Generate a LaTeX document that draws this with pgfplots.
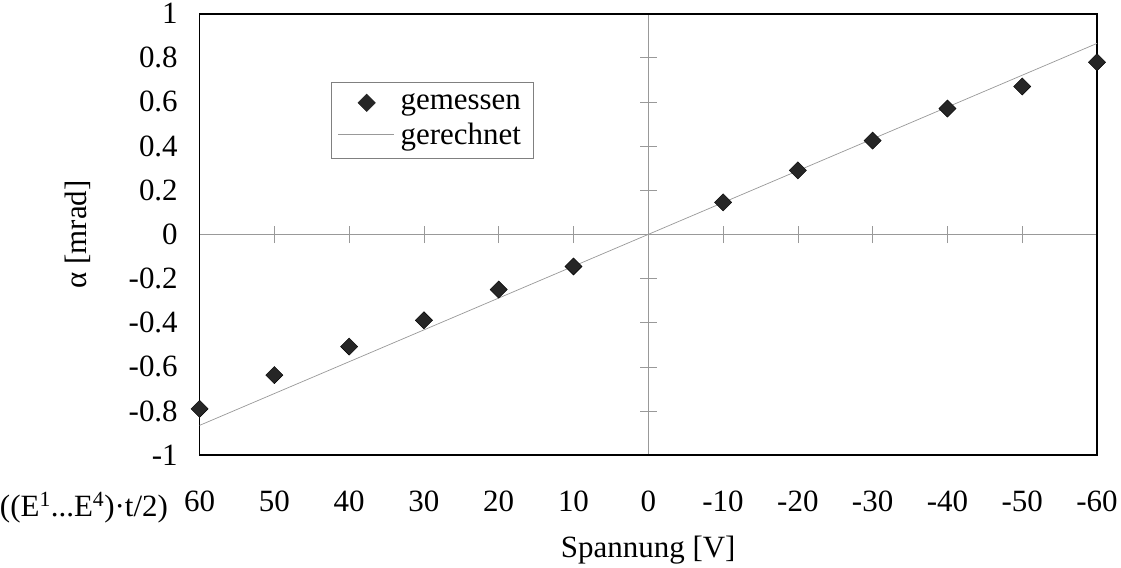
\documentclass[border=0pt]{standalone}
\usepackage{fontspec}
\setmainfont{Liberation Serif}
\usepackage{pgfplots}
\pgfplotsset{compat=1.18}
\begin{document}
\begin{tikzpicture}
\newcommand{\lfont}{\fontsize{30.5}{36}\selectfont}
% centre lines with crossing ticks
\begin{axis}[
  name=inner,
  scale only axis, width=884pt, height=435pt,
  x dir=reverse,
  xmin=-60, xmax=60, ymin=-1, ymax=1,
  axis lines=middle,
  axis line style={-, gray!80, line width=0.6pt},
  xtick={-60,-50,-40,-30,-20,-10,10,20,30,40,50},
  ytick={-0.8,-0.6,-0.4,-0.2,0.2,0.4,0.6,0.8},
  xticklabels={}, yticklabels={},
  tick align=center,
  major tick length=17pt,
  tick style={gray!80, line width=0.6pt},
]
\end{axis}
\begin{axis}[
  scale only axis, width=884pt, height=435pt,
  clip=false,
  x dir=reverse,
  xmin=-60, xmax=60, ymin=-1, ymax=1,
  axis line style={black, line width=1.8pt},
  major tick length=0pt,
  xtick={60,50,40,30,20,10,0,-10,-20,-30,-40,-50,-60},
  xticklabels={60,50,40,30,20,10,0,-10,-20,-30,-40,-50,-60},
  ytick={-1,-0.8,-0.6,-0.4,-0.2,0,0.2,0.4,0.6,0.8,1},
  yticklabels={-1,-0.8,-0.6,-0.4,-0.2,0,0.2,0.4,0.6,0.8,1},
  ticklabel style={font=\lfont},
  xticklabel style={yshift=-32pt},
  yticklabel style={xshift=-18pt},
  ylabel={α [mrad]},
  ylabel style={font=\lfont, at={(axis description cs:-0.136,0.5)}, anchor=center},
  xlabel={Spannung [V]},
  xlabel style={font=\lfont, at={(axis description cs:0.5,-0.232)}, anchor=base},
  legend style={at={(rel axis cs:0.147,0.846)}, anchor=north west,
    draw=gray, line width=0.6pt, font=\lfont, inner xsep=6pt, inner ysep=10pt,
    row sep=7pt, cells={anchor=west}, nodes={inner xsep=6pt}},
  legend cell align=left,
  reverse legend,
]
\addplot[gray!80, line width=0.7pt,
  legend image code/.code={\draw[gray!80, line width=0.7pt] (0pt,0pt) -- (55pt,0pt);}]
  coordinates {(60,-0.865) (-60,0.865)};
\addplot[only marks, mark=square*, mark size=6pt, mark options={rotate=45, fill=black!85, draw=black},
  legend image code/.code={\path[draw=none] (0pt,0pt) -- (55pt,0pt);
    \fill[black!85] (28pt,0pt) +(0pt,8.5pt) -- +(8.5pt,0pt) -- +(0pt,-8.5pt) -- +(-8.5pt,0pt) -- cycle;}]
  coordinates {
  (60,-0.79) (50,-0.637) (40,-0.508) (30,-0.389) (20,-0.25) (10,-0.145)
  (-10,0.145) (-20,0.29) (-30,0.425) (-40,0.57) (-50,0.67) (-60,0.78)};
\legend{gerechnet,gemessen}
\node[font=\lfont, anchor=base east, inner sep=0pt] at (axis description cs:-0.035,-0.138)
  {((E\textsuperscript{1}...E\textsuperscript{4})·t/2)};
\end{axis}
\end{tikzpicture}
\end{document}
